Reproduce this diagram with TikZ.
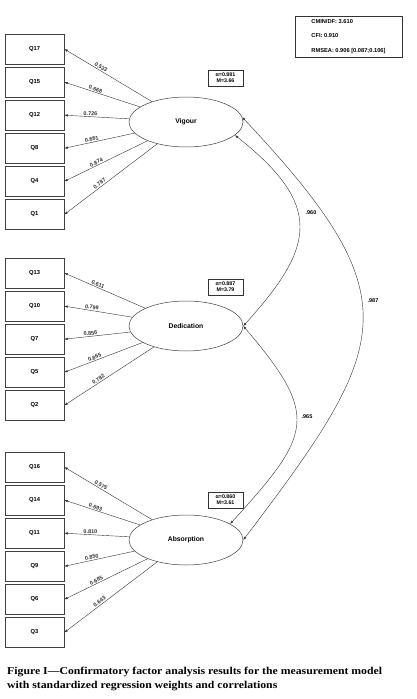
\documentclass[tikz,border=0pt]{standalone}
\usepackage{fontspec}
\setmainfont{Liberation Serif}
\setsansfont{Liberation Sans}
\newfontfamily\capfont[FakeStretch=1.12]{Liberation Serif}
\usepackage{tikz}
\usetikzlibrary{arrows.meta,positioning,shapes.geometric}

\begin{document}
\begin{tikzpicture}[
  x=1pt, y=-1pt,
  item/.style={draw=black!75, line width=0.6pt, minimum width=59pt, minimum height=30pt, inner sep=0pt, font=\sffamily\bfseries\fontsize{5.8}{7}\selectfont},
  factor/.style={draw=black!75, ellipse, line width=0.5pt, minimum width=114pt, minimum height=50pt, inner sep=0pt, font=\sffamily\bfseries\fontsize{6.8}{8}\selectfont},
  stat/.style={draw=black!80, line width=0.6pt, align=center, inner sep=1pt, minimum width=35pt, minimum height=16pt, font=\sffamily\bfseries\fontsize{5.3}{6.2}\selectfont},
  load/.style={-{Latex[length=3.5pt,width=2.4pt]}, black!80, line width=0.4pt},
  corr/.style={{Latex[length=3.5pt,width=2.4pt]}-{Latex[length=3.5pt,width=2.4pt]}, black!80, line width=0.4pt},
  wt/.style={font=\sffamily\bfseries\fontsize{5.5}{6}\selectfont, inner sep=1pt, sloped, above, pos=0.6},
  cval/.style={font=\sffamily\bfseries\fontsize{5.5}{6}\selectfont, inner sep=0pt},
  node distance=2.5pt
]
\useasboundingbox (0,0) rectangle (417,699);

% fit indices
\node[draw=black!80, line width=0.6pt, minimum width=107pt, minimum height=41pt, align=left,
  font=\sffamily\bfseries\fontsize{5.7}{14.5}\selectfont] (fit) at (348.5,36.5)
  {CMIN/DF: 3.610\\CFI: 0.910\\RMSEA: 0.906 [0.087;0.106]};

% Vigour
\node[item] (q17) at (34.5,49) {Q17};
\node[item, below=of q17] (q15) {Q15};
\node[item, below=of q15] (q12) {Q12};
\node[item, below=of q12] (q8) {Q8};
\node[item, below=of q8] (q4) {Q4};
\node[item, below=of q4] (q1) {Q1};
\node[factor] (vig) at (186,122) {Vigour};
\node[stat] (vigstat) at (225.5,78) {α=0.881\\M=3.66};
\draw[load] (vig) -- node[wt] {0.533} (q17.east);
\draw[load] (vig) -- node[wt] {0.668} (q15.east);
\draw[load] (vig) -- node[wt] {0.726} (q12.east);
\draw[load] (vig) -- node[wt] {0.661} (q8.east);
\draw[load] (vig) -- node[wt] {0.874} (q4.east);
\draw[load] (vig) -- node[wt] {0.787} (q1.east);

% Dedication
\node[item] (q13) at (34.5,273) {Q13};
\node[item, below=of q13] (q10) {Q10};
\node[item, below=of q10] (q7) {Q7};
\node[item, below=of q7] (q5) {Q5};
\node[item, below=of q5] (q2) {Q2};
\node[factor] (ded) at (186,326) {Dedication};
\node[stat] (dedstat) at (225.5,287) {α=0.887\\M=3.79};
\draw[load] (ded) -- node[wt] {0.611} (q13.east);
\draw[load] (ded) -- node[wt] {0.799} (q10.east);
\draw[load] (ded) -- node[wt] {0.856} (q7.east);
\draw[load] (ded) -- node[wt] {0.865} (q5.east);
\draw[load] (ded) -- node[wt] {0.782} (q2.east);

% Absorption
\node[item] (q16) at (34.5,467) {Q16};
\node[item, below=of q16] (q14) {Q14};
\node[item, below=of q14] (q11) {Q11};
\node[item, below=of q11] (q9) {Q9};
\node[item, below=of q9] (q6) {Q6};
\node[item, below=of q6] (q3) {Q3};
\node[factor] (abs) at (186,540) {Absorption};
\node[stat] (absstat) at (225.5,500) {α=0.860\\M=3.61};
\draw[load] (abs) -- node[wt] {0.575} (q16.east);
\draw[load] (abs) -- node[wt] {0.693} (q14.east);
\draw[load] (abs) -- node[wt] {0.810} (q11.east);
\draw[load] (abs) -- node[wt] {0.850} (q9.east);
\draw[load] (abs) -- node[wt] {0.685} (q6.east);
\draw[load] (abs) -- node[wt] {0.643} (q3.east);

% correlations
\draw[corr] (vig.-15) .. controls (323,205) and (316,246) .. (ded.east);
\draw[corr] (ded.east) .. controls (320,416) and (312,434) .. (abs.20);
\draw[corr] (vig.5) .. controls (412,298) and (393,343) .. (abs.east);
\node[cval] (r960) at (311,213) {.960};
\node[cval] (r965) at (307,417) {.965};
\node[cval] (r987) at (373,301) {.987};

% caption
\node[anchor=base west, align=left, inner sep=0pt,
  font=\capfont\bfseries\fontsize{10.5}{13.5}\selectfont] (cap) at (7,688)
  {Figure I—Confirmatory factor analysis results for the measurement model\\with standardized regression weights and correlations};
\end{tikzpicture}
\end{document}
